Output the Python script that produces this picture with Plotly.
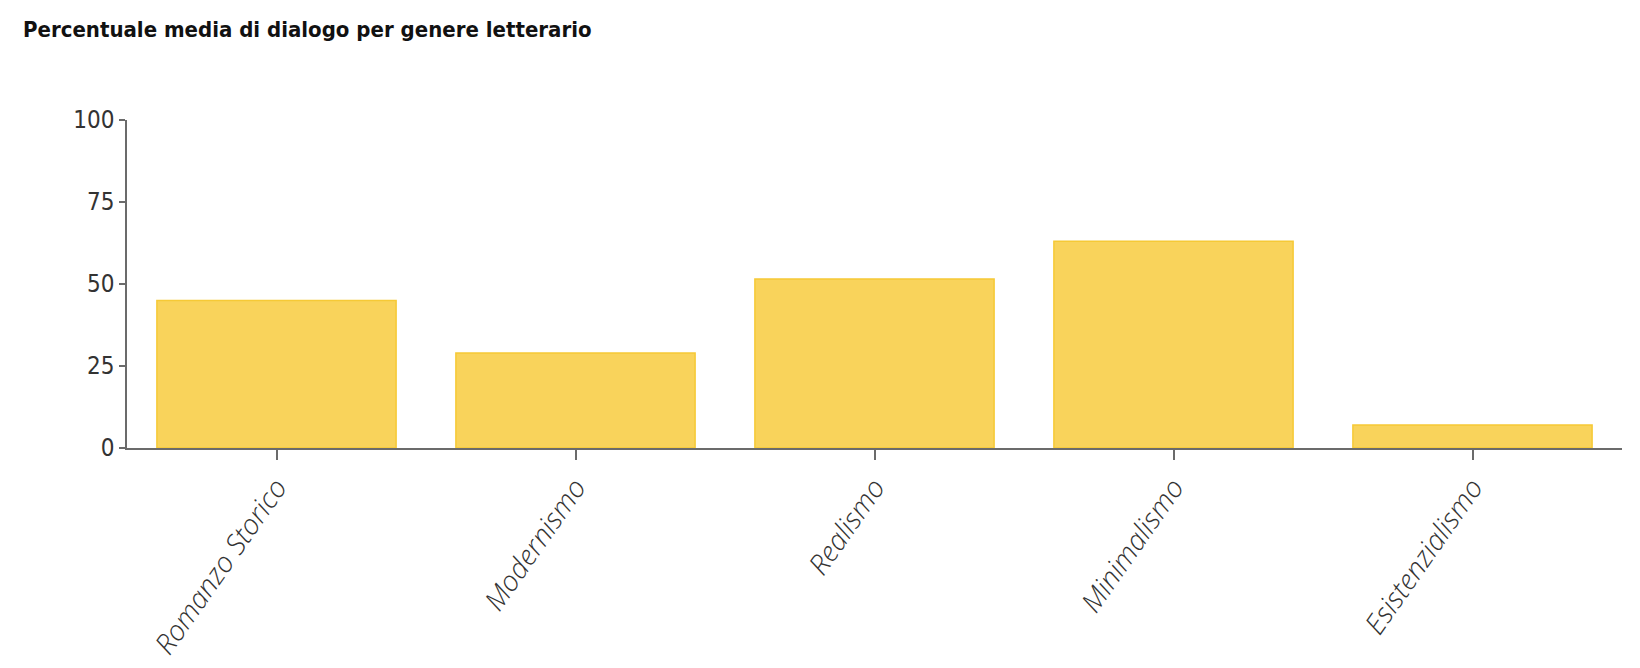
import plotly.graph_objects as go

# Dati
generi = ["Romanzo Storico", "Modernismo", "Realismo", "Minimalismo", "Esistenzialismo"]
percentuali = [45, 29, 51.5, 63, 7]
tick_y = [0, 25, 50, 75, 100]

titolo = "Percentuale media di dialogo per genere letterario"

fig = go.Figure(
    data=[
        go.Bar(
            x=generi,
            y=percentuali,
            marker=dict(color="#F9D35B", line=dict(color="#F6C936", width=1.5)),
            hoverinfo="x+y",
        )
    ]
)

fig.update_layout(
    width=1640,
    height=668,
    autosize=False,
    paper_bgcolor="white",
    plot_bgcolor="white",
    margin=dict(l=119, r=26, t=112, b=228),
    bargap=0.2,
    showlegend=False,
    title=dict(
        text="<b>" + titolo + "</b>",
        x=15 / 1640,
        xref="container",
        xanchor="left",
        y=1 - 14 / 668,
        yref="container",
        yanchor="top",
        font=dict(family="Liberation Sans Narrow, DejaVu Sans Condensed, Roboto", size=22, color="#111111"),
    ),
)

fig.update_xaxes(
    type="category",
    range=[-0.5, 4.5],
    showline=True,
    linecolor="#6b6b6b",
    linewidth=1.5,
    ticks="outside",
    ticklen=10,
    tickwidth=1.5,
    tickcolor="#6b6b6b",
    tickangle=-55,
    tickfont=dict(family="Open Sans, Lato, Roboto", size=28, color="#333333", style="italic", weight=300),
    showgrid=False,
    zeroline=False,
)

fig.update_yaxes(
    range=[0, 100],
    tickvals=tick_y,
    ticktext=[str(v) for v in tick_y],
    showline=True,
    linecolor="#6b6b6b",
    linewidth=1.5,
    ticks="outside",
    ticklen=6,
    tickwidth=1.5,
    tickcolor="#6b6b6b",
    tickfont=dict(family="Liberation Sans Narrow, DejaVu Sans Condensed, Roboto", size=24, color="#333333"),
    showgrid=False,
    zeroline=False,
)

fig.write_html("out.html")
